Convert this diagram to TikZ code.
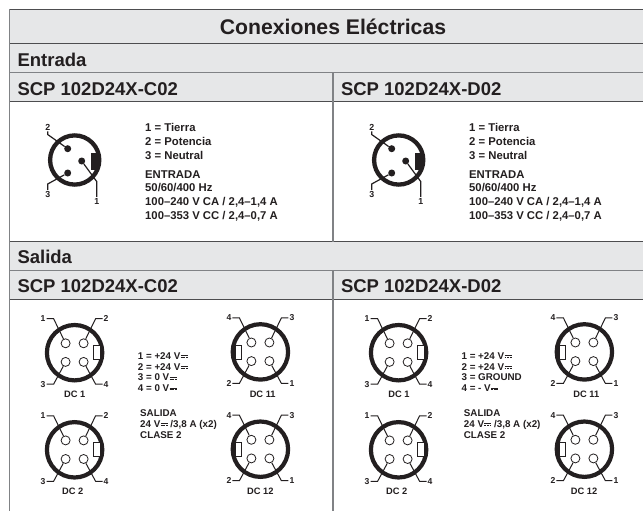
\documentclass[tikz,border=0pt]{standalone}
\usepackage{fontspec}
\setmainfont{Liberation Sans}
\usetikzlibrary{calc}
\definecolor{ink}{HTML}{231F20}
\definecolor{band}{HTML}{E6E7E8}
\definecolor{rulegrey}{HTML}{808285}
\definecolor{ruledark}{HTML}{4D4D4F}
\newcommand\fsz[2]{\fontsize{#1pt}{#2pt}\selectfont\bfseries}
\newcommand\dcs{\kern0.4pt\rlap{\rule[3.2pt]{7pt}{0.7pt}}\rule[1.5pt]{1.9pt}{0.7pt}\kern.65pt\rule[1.5pt]{1.9pt}{0.7pt}\kern.65pt\rule[1.5pt]{1.9pt}{0.7pt}}
\tikzset{
  txtbase/.style={text=ink,inner sep=0pt,anchor=west,align=left},
  headtxt/.style={txtbase,font=\fsz{18.5}{20}},
  smalltxt/.style={txtbase,font=\fsz{11.3}{14}},
  smallertxt/.style={txtbase,font=\fsz{9.8}{11}},
  pinlabel/.style={text=ink,inner sep=1pt,font=\fsz{8.6}{9}},
  dclabel/.style={text=ink,inner sep=0pt,font=\fsz{9.3}{11}},
  leadline/.style={draw=ink,line width=1pt},
  ringline/.style={draw=ink,line width=4.2pt,fill=white},
  hollowpin/.style={circle,draw=ink,line width=0.8pt,fill=white,minimum size=9pt,inner sep=0pt},
  solidpin/.style={circle,fill=ink,minimum size=7pt,inner sep=0pt},
}
% #1 prefix, #2 x, #3 y, #4 key side (+1/-1), #5..#8 labels TL TR BL BR
\newcommand\dcconn[8]{%
  \begin{scope}[shift={(#2,#3)}]
    \draw[ringline] (0,0) circle (27.7);
    \draw[draw=ink,line width=0.8pt,fill=white] ({#4*18.9},-7) rectangle ({#4*25.3},7);
    \node[hollowpin] (#1p1) at (-9,-9.4) {};
    \node[hollowpin] (#1p2) at (9,-9.4) {};
    \node[hollowpin] (#1p3) at (-9,9.2) {};
    \node[hollowpin] (#1p4) at (9,9.2) {};
    \node[pinlabel] (#1l1) at (-31.5,-34) {#5};
    \node[pinlabel] (#1l2) at (31.5,-34) {#6};
    \node[pinlabel] (#1l3) at (-31.5,31.5) {#7};
    \node[pinlabel] (#1l4) at (31.5,31.5) {#8};
    \coordinate (#1e1) at (-21,-34);
    \coordinate (#1e2) at (21,-34);
    \coordinate (#1e3) at (-21,31.5);
    \coordinate (#1e4) at (21,31.5);
    \draw[leadline] (#1l1) -- (#1e1) -- (#1p1);
    \draw[leadline] (#1l2) -- (#1e2) -- (#1p2);
    \draw[leadline] (#1l3) -- (#1e3) -- (#1p3);
    \draw[leadline] (#1l4) -- (#1e4) -- (#1p4);
  \end{scope}}
% input connector
\newcommand\acconn[3]{%
  \begin{scope}[shift={(#2,#3)}]
    \draw[draw=ink,line width=4.3pt,fill=white] (0,0) circle (24.6);
    \fill[ink] (16.3,-6.8) rectangle (24.3,10);
    \node[solidpin] (#1p2) at (-7,-11.3) {};
    \node[solidpin] (#1p3) at (-7,13) {};
    \node[solidpin] (#1p1) at (7,1) {};
    \node[pinlabel,font=\fsz{8.8}{9}] (#1l2) at (-27,-33) {2};
    \node[pinlabel,font=\fsz{8.8}{9}] (#1l3) at (-27,34.3) {3};
    \node[pinlabel,font=\fsz{8.8}{9}] (#1l1) at (22,41) {1};
    \coordinate (#1e2) at (-27,-25.5);
    \coordinate (#1e3) at (-27,24);
    \coordinate (#1e1) at (22,21.5);
    \draw[draw=ink,line width=1.2pt] (#1l2) -- (#1e2) -- (#1p2);
    \draw[draw=ink,line width=1.2pt] (#1l3) -- (#1e3) -- (#1p3);
    \draw[draw=ink,line width=1.2pt] (#1l1) -- (#1e1) -- (#1p1);
  \end{scope}}
\begin{document}
\begin{tikzpicture}[x=1pt,y=-1pt]
\useasboundingbox (0,0) rectangle (643,511);
\fill[white] (0,0) rectangle (643,511);
% bands
\fill[band] (9.5,9.5) rectangle (643,102);
\fill[band] (9.5,241) rectangle (643,299);
% rules
\draw[ruledark,line width=1pt] (9.5,9.5) -- (643,9.5);
\draw[ruledark,line width=1pt] (9.5,44) -- (643,44);
\draw[rulegrey,line width=1pt] (9.5,73) -- (643,73);
\draw[ruledark,line width=1pt] (9.5,102) -- (643,102);
\draw[ruledark,line width=1pt] (9.5,241.5) -- (643,241.5);
\draw[rulegrey,line width=1pt] (9.5,270.5) -- (643,270.5);
\draw[ruledark,line width=1pt] (9.5,299) -- (643,299);
\draw[rulegrey,line width=1.4pt] (9.5,9) -- (9.5,511);
\draw[rulegrey,line width=1.4pt] (333,73) -- (333,241.5);
\draw[rulegrey,line width=1.4pt] (333,270.5) -- (333,511);
% headers
\node[text=ink,inner sep=0pt,font=\fsz{21.2}{23}] (title) at (333,27) {Conexiones Eléctricas};
\node[headtxt] (hin) at (17.3,60) {Entrada};
\node[headtxt] (hinc) at (17.3,89) {SCP 102D24X-C02};
\node[headtxt] (hind) at (340.8,89) {SCP 102D24X-D02};
\node[headtxt] (hout) at (17.3,257) {Salida};
\node[headtxt] (houtc) at (17.3,286) {SCP 102D24X-C02};
\node[headtxt] (houtd) at (340.8,286) {SCP 102D24X-D02};
% input
\acconn{ia}{74.7}{160}
\acconn{ib}{398.7}{160}
\node[smalltxt] (ita) at (145,141.3) {1 = Tierra\\2 = Potencia\\3 = Neutral};
\node[smalltxt] (itb) at (469,141.3) {1 = Tierra\\2 = Potencia\\3 = Neutral};
\node[smalltxt,font=\fsz{11.3}{13.7}] (isa) at (145,195.6) {ENTRADA\\50/60/400 Hz\\100–240 V CA / 2,4–1,4 A\\100–353 V CC / 2,4–0,7 A};
\node[smalltxt,font=\fsz{11.3}{13.7}] (isb) at (469,195.6) {ENTRADA\\50/60/400 Hz\\100–240 V CA / 2,4–1,4 A\\100–353 V CC / 2,4–0,7 A};
% output, left
\dcconn{a}{74.6}{352.7}{1}{1}{2}{3}{4}
\dcconn{b}{74.6}{449.8}{1}{1}{2}{3}{4}
\dcconn{c}{260.4}{351.9}{-1}{4}{3}{2}{1}
\dcconn{d}{260.4}{449.2}{-1}{4}{3}{2}{1}
\node[dclabel] (ca) at (74.7,394) {DC 1};
\node[dclabel] (cb) at (72.7,491.7) {DC 2};
\node[dclabel] (cc) at (262.7,394) {DC 11};
\node[dclabel] (cd) at (260.3,491.7) {DC 12};
\node[smallertxt,font=\fsz{9.8}{10.7}] (pa) at (137.7,372) {1 = +24 V\dcs\\2 = +24 V\dcs\\3 = 0 V\dcs\\4 = 0 V\dcs};
\node[smallertxt] (sa) at (140,423.7) {SALIDA\\24 V\dcs\ /3,8 A (x2)\\CLASE 2};
% output, right
\dcconn{e}{398.6}{352.7}{1}{1}{2}{3}{4}
\dcconn{f}{398.6}{449.8}{1}{1}{2}{3}{4}
\dcconn{g}{584.4}{351.9}{-1}{4}{3}{2}{1}
\dcconn{h}{584.4}{449.2}{-1}{4}{3}{2}{1}
\node[dclabel] (ce) at (399,394) {DC 1};
\node[dclabel] (cf) at (396.7,491.7) {DC 2};
\node[dclabel] (cg) at (586.3,394) {DC 11};
\node[dclabel] (ch) at (584,491.7) {DC 12};
\node[smallertxt,font=\fsz{9.8}{10.7}] (pb) at (461.4,372) {1 = +24 V\dcs\\2 = +24 V\dcs\\3 = GROUND\\4 = - V\dcs};
\node[smallertxt] (sb) at (463.7,423.7) {SALIDA\\24 V\dcs\ /3,8 A (x2)\\CLASE 2};
\end{tikzpicture}
\end{document}
